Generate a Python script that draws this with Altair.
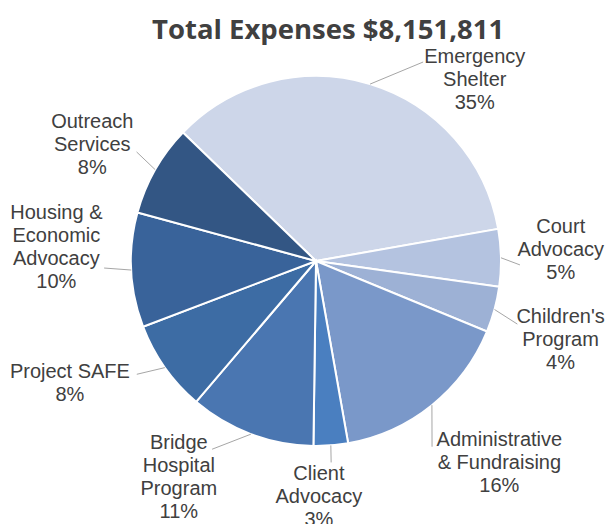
import math
import altair as alt
import pandas as pd

# ---- data ----
categories = ["Emergency Shelter", "Court Advocacy", "Children's Program",
              "Administrative & Fundraising", "Client Advocacy",
              "Bridge Hospital Program", "Project SAFE",
              "Housing & Economic Advocacy", "Outreach Services"]
label_text = ["Emergency\nShelter\n35%", "Court\nAdvocacy\n5%", "Children's\nProgram\n4%",
              "Administrative\n& Fundraising\n16%", "Client\nAdvocacy\n3%",
              "Bridge\nHospital\nProgram\n11%", "Project SAFE\n8%",
              "Housing &\nEconomic\nAdvocacy\n10%", "Outreach\nServices\n8%"]
percent = [35, 5, 4, 16, 3, 11, 8, 10, 8]
colors = ["#cdd6e9", "#b4c3e0", "#9db1d5", "#7a98c9", "#4a7fc0",
          "#4a76b1", "#3d6ca4", "#39639a", "#335684"]

# ---- layout (not data) ----
PAD_TOP = 50
W, H = 597, 516 - PAD_TOP
CX, CY = 308, 203          # pie centre in view coordinates
R = 185
LH = 23
START = math.radians(-46)
label_angle = [41.2, 87.4, 107.9, 137.8, 179.3, 212.4, 243.5, 272.9, 297.4]
label_radius = [241, 245, 257, 273, 236, 256, 275, 260, 252]
lead_end_angle = [28.3, 91.1, 107.4, 148, 175.7, 208.9, 237.7, 268.1, 301.3]
lead_end_radius = [226, 204, 211, 219, 202, 215, 212, 212, 210]

df = pd.DataFrame({"cat": categories, "pct": percent, "order": list(range(len(categories))),
                   "label": label_text, "la": label_angle, "lr": label_radius,
                   "ea": lead_end_angle, "er": lead_end_radius})

base = alt.Chart(df)

pie = base.mark_arc(outerRadius=R, stroke="white", strokeWidth=2).encode(
    theta=alt.Theta("pct:Q", stack=True,
                    scale=alt.Scale(domain=[0, 100], range=[START, START + 2 * math.pi])),
    color=alt.Color("cat:N", scale=alt.Scale(domain=categories, range=colors), legend=None),
    order=alt.Order("order:Q"),
    x=alt.value(CX), y=alt.value(CY),
)

# leader lines: start at slice mid-angle on the edge
leaders = base.transform_window(
    cum="sum(pct)", sort=[alt.SortField("order")], frame=[None, 0]
).transform_calculate(
    mid=f"{START} + 2*PI*(datum.cum - datum.pct/2)/100",
    x1=f"{CX} + {R}*sin(datum.mid)",
    y1=f"{CY} - {R}*cos(datum.mid)",
    x2=f"{CX} + datum.er*sin(datum.ea*PI/180)",
    y2=f"{CY} - datum.er*cos(datum.ea*PI/180)",
).mark_rule(color="#a6a6a6", strokeWidth=1).encode(
    x=alt.X("x1:Q", scale=None), y=alt.Y("y1:Q", scale=None),
    x2="x2:Q", y2="y2:Q",
)

labels = base.transform_calculate(
    nl="length(split(datum.label, '\\n'))",
).transform_calculate(
    lx=f"{CX} + datum.lr*sin(datum.la*PI/180)",
    ly=f"{CY} - datum.lr*cos(datum.la*PI/180) - (datum.nl - 1)*{LH}/2",
).mark_text(font="Liberation Sans", fontSize=20, color="#404040", lineBreak="\n",
            lineHeight=LH, align="center", baseline="middle").encode(
    x=alt.X("lx:Q", scale=None), y=alt.Y("ly:Q", scale=None), text="label:N",
)

chart = alt.layer(pie, leaders, labels).properties(
    width=W, height=H,
    title=alt.TitleParams("Total Expenses $8,151,811", font="Open Sans", fontSize=27.5,
                          fontWeight="bold", color="#404040", anchor="start", dx=144, offset=2),
    autosize=alt.AutoSizeParams(type="none"),
    padding={"left": 0, "right": 0, "top": PAD_TOP, "bottom": 0},
).configure_view(stroke=None)

chart.save("out.html", embed_options={"renderer": "svg", "actions": False})
